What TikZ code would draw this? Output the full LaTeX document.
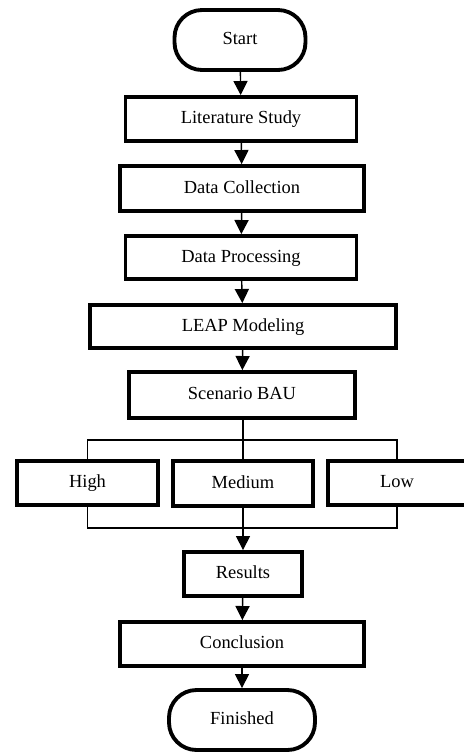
\documentclass[tikz,border=0pt]{standalone}
\usepackage{fontspec}
\setmainfont{Liberation Serif}
\usetikzlibrary{positioning}
\usetikzlibrary{arrows.meta}
\tikzset{box/.style={draw,line width=2.2pt,inner sep=2pt,text height=1.6ex,text depth=.4ex,font=\fontsize{10.5}{12}\selectfont}}
\tikzset{term/.style={box,rounded corners=0.55cm}}
\tikzset{ln/.style={line width=0.8pt}}
\tikzset{>={Triangle[length=8pt,width=8pt]}}

\begin{document}
\begin{tikzpicture}[x=0.02cm,y=-0.02cm]
\useasboundingbox (0,0) rectangle (464,752);

\node[term,minimum width=2.62cm,minimum height=1.2cm] (start) at (240,40) {Start};
\node[box,minimum width=4.62cm,minimum height=0.88cm] (lit) at (241,119) {Literature Study};
\node[box,minimum width=4.88cm,minimum height=0.9cm] (coll) at (242,188.5) {Data Collection};
\node[box,minimum width=4.62cm,minimum height=0.86cm] (proc) at (241,257.5) {Data Processing};
\node[box,minimum width=6.12cm,minimum height=0.86cm] (leap) at (243,326.5) {LEAP Modeling};
\node[box,minimum width=4.52cm,minimum height=0.92cm] (bau) at (242,395) {Scenario BAU};

\node[box,minimum width=2.8cm,minimum height=0.9cm] (medium) at (243,483.5) {Medium};
\node[box,minimum width=2.82cm,minimum height=0.88cm] (high) at (87.5,483) {High};
\node[box,minimum width=2.76cm,minimum height=0.88cm] (low) at (397,483) {Low};

\node[box,minimum width=2.36cm,minimum height=0.88cm] (res) at (243,574) {Results};
\node[box,minimum width=4.88cm,minimum height=0.88cm] (concl) at (242,644) {Conclusion};
\node[term,minimum width=2.92cm,minimum height=1.2cm] (fin) at (242,720) {Finished};

\coordinate (split) at (243,440);
\coordinate (join) at (243,528);

\draw[ln,->] (start) -- (lit);
\draw[ln,->] (lit) -- (coll);
\draw[ln,->] (coll) -- (proc);
\draw[ln,->] (proc) -- (leap);
\draw[ln,->] (leap) -- (bau);

% branch to the three scenarios
\draw[ln] (bau.south -| medium) -- (medium.north);
\draw[ln] (high.north) -- (high |- split) -- (low |- split) -- (low.north);
\draw[ln] (high.south) -- (high |- join) -- (low |- join) -- (low.south);
\draw[ln,->] (medium.south) -- (res.north);

\draw[ln,->] (res) -- (concl);
\draw[ln,->] (concl) -- (fin);
\end{tikzpicture}
\end{document}
